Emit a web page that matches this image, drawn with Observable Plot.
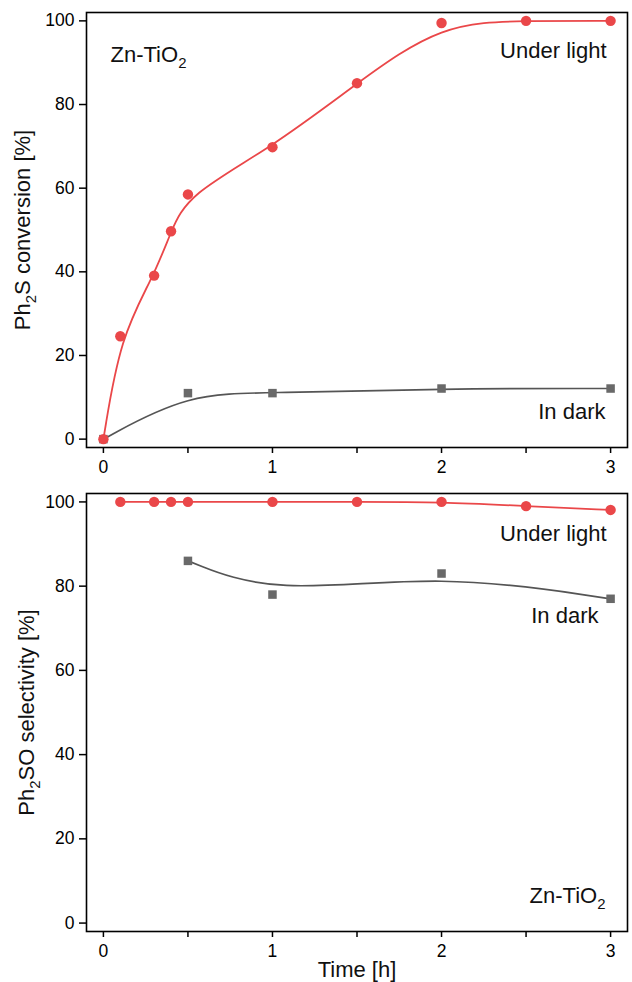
<!DOCTYPE html>
<html><head><meta charset="utf-8">
<script src="https://cdn.jsdelivr.net/npm/d3@7"></script>
<script src="https://cdn.jsdelivr.net/npm/@observablehq/plot@0.6"></script>
<style>
body{margin:0;background:#fff}
#c{width:632px;font-family:"Liberation Sans",Arial,sans-serif}
svg{display:block}
</style>
</head><body><div id="c"></div>
<script>
// Panel 1: Ph2S conversion
const convLightTime = [0, 0.1, 0.3, 0.4, 0.5, 1, 1.5, 2, 2.5, 3];
const convLight     = [0, 24.6, 39.1, 49.7, 58.5, 69.8, 85.1, 99.5, 100, 100];
const convDarkTime  = [0, 0.5, 1, 2, 3];
const convDark      = [0, 11, 11, 12.1, 12.1];
// Panel 2: Ph2SO selectivity
const selLightTime = [0.1, 0.3, 0.4, 0.5, 1, 1.5, 2, 2.5, 3];
const selLight     = [100, 100, 100, 100, 100, 100, 100, 99, 98.1];
const selDarkTime  = [0.5, 1, 2, 3];
const selDark      = [86, 78, 83, 77];
// ticks
const xTicks = [0, 1, 2, 3];
const xMinorTicks = [0.5, 1.5, 2.5];
const yTicks = [0, 20, 40, 60, 80, 100];
const labels = {
  conv: "Ph2S conversion [%]",
  sel: "Ph2SO selectivity [%]",
  time: "Time [h]",
  sample: "Zn-TiO2",
  light: "Under light",
  dark: "In dark"
};

const RED = "#ea4749", GRAYDOT = "#696969", GRAYLINE = "#555555";
const FS_TICK = 17.5, FS_TXT = 22;
const pts = (xs, ys) => xs.map((x, i) => ({x, y: ys[i]}));

function panel(o) {
  const light = pts(o.lightT, o.light), dark = pts(o.darkT, o.dark);
  const marks = [
    Plot.axisY({ticks: yTicks, tickSize: 7, tickPadding: 5, fontSize: FS_TICK, label: null, stroke: "#000", strokeWidth: 1.5, color: "#000"}),
    Plot.axisX({ticks: xTicks, tickFormat: d3.format("d"), tickSize: 6, tickPadding: 7, fontSize: FS_TICK, label: null, stroke: "#000", strokeWidth: 1.5}),
    Plot.axisX({ticks: xMinorTicks, tickSize: 6, tickFormat: () => "", label: null, stroke: "#000", strokeWidth: 1.5}),
    Plot.frame({stroke: "#000", strokeWidth: 1.6}),
    Plot.line(dark, {x: "x", y: "y", curve: "basis", stroke: GRAYLINE, strokeWidth: 1.7}),
    Plot.dot(dark, {x: "x", y: "y", symbol: "square", r: 4.8, fill: GRAYDOT, stroke: null}),
    Plot.line(light, {x: "x", y: "y", curve: o.lightCurve, stroke: RED, strokeWidth: 1.8}),
    Plot.dot(light, {x: "x", y: "y", r: 5.2, fill: RED, stroke: null}),
    Plot.text([o.ytitle], {text: d => d, frameAnchor: "left", dx: o.ytdx, rotate: -90, textAnchor: "middle", lineAnchor: "middle", fontSize: FS_TXT, fill: "#111"}),
    ...o.annos.map(a => Plot.text([a.t], {text: d => d, frameAnchor: a.fa, dx: a.dx, dy: a.dy, textAnchor: a.ta, lineAnchor: "middle", fontSize: FS_TXT, fill: "#111"}))
  ];
  if (o.xtitle) marks.push(Plot.text([o.xtitle], {text: d => d, frameAnchor: "bottom", dy: o.xtdy, textAnchor: "middle", lineAnchor: "middle", fontSize: FS_TXT, fill: "#111"}));
  return Plot.plot({
    width: 632, height: o.height,
    marginTop: o.mt, marginBottom: o.mb, marginLeft: 86, marginRight: 5,
    style: {fontFamily: '"Liberation Sans", Arial, sans-serif', color: "#000", background: "#fff", overflow: "visible"},
    x: {domain: [-0.1, 3.1]},
    y: {domain: [-2, 102]},
    marks
  });
}

const topPanel = panel({
  lightT: convLightTime, light: convLight, darkT: convDarkTime, dark: convDark,
  lightCurve: "basis", height: 490, mt: 12, mb: 43, ytitle: labels.conv, ytdx: -64,
  annos: [
    {t: labels.sample, fa: "top-left", dx: 24, dy: 42, ta: "start"},
    {t: labels.light, fa: "top-right", dx: -21, dy: 38.6, ta: "end"},
    {t: labels.dark, fa: "bottom-right", dx: -22, dy: -35.4, ta: "end"}
  ]
});
const bottomPanel = panel({
  lightT: selLightTime, light: selLight, darkT: selDarkTime, dark: selDark,
  lightCurve: "basis", height: 492, mt: 3, mb: 51, ytitle: labels.sel, ytdx: -60,
  xtitle: labels.time, xtdy: 38.7,
  annos: [
    {t: labels.light, fa: "top-right", dx: -21, dy: 40.3, ta: "end"},
    {t: labels.dark, fa: "top-right", dx: -29, dy: 122, ta: "end"},
    {t: labels.sample, fa: "bottom-right", dx: -22, dy: -35.7, ta: "end"}
  ]
});
const c = document.getElementById("c");
c.append(topPanel, bottomPanel);

function subscripts(svg) {
  const ns = "http://www.w3.org/2000/svg";
  svg.querySelectorAll("text").forEach(t => {
    const s = t.textContent;
    const m = s.match(/^(.*?(?:Ph|TiO))2(.*)$/);
    if (!m) return;
    const fs = parseFloat(getComputedStyle(t).fontSize) || FS_TXT;
    t.textContent = "";
    const a = document.createElementNS(ns, "tspan"); a.textContent = m[1];
    const b = document.createElementNS(ns, "tspan"); b.textContent = "2";
    b.setAttribute("font-size", fs * 0.68); b.setAttribute("dy", fs * 0.28);
    t.append(a, b);
    if (m[2]) {
      const d = document.createElementNS(ns, "tspan"); d.textContent = m[2];
      d.setAttribute("dy", -fs * 0.28); t.append(d);
    }
  });
}
subscripts(topPanel); subscripts(bottomPanel);
</script>
</body></html>
